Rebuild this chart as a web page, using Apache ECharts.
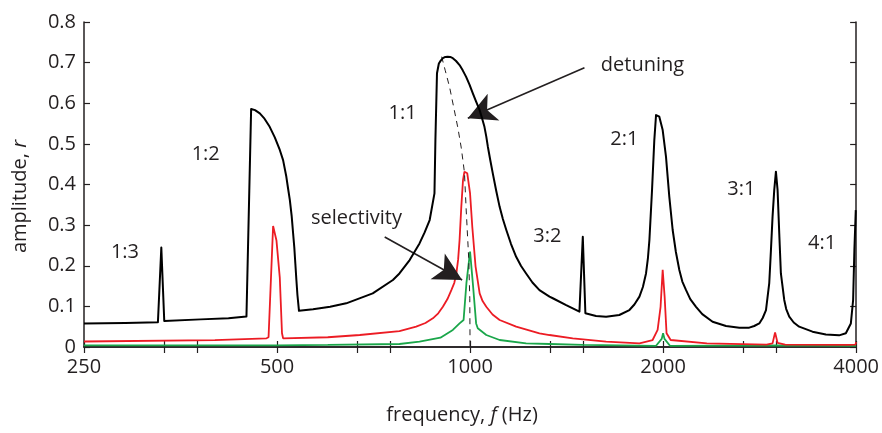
<!DOCTYPE html>
<html>
<head>
<meta charset="utf-8">
<script src="https://cdn.jsdelivr.net/npm/echarts@6/dist/echarts.min.js"></script>
<style>
html,body{margin:0;padding:0;background:#fff;}
#c{width:882px;height:433px;}
</style>
</head>
<body>
<div id="c"></div>
<script>
// ---- data ----
const xTickValues = [250, 333.333, 375, 500, 666.667, 750, 1000, 1333.33, 1500, 2000, 2666.67, 3000, 4000];
const xLabelValues = [250, 500, 1000, 2000, 4000];

const blackFreq = [250, 290, 326, 330, 333.5, 380, 420, 448, 455.6, 462, 470, 478, 487, 496, 505, 511, 517, 520, 523.5, 527, 529.7, 532, 534, 536, 538, 541,
  569, 605, 641, 705, 758, 776, 805, 834, 849.5, 865, 880, 883, 888, 894, 900, 907, 915, 923, 931, 940, 951, 963, 974, 986, 998, 1010, 1022, 1035, 1044, 1053, 1060, 1066, 1075, 1085, 1098, 1112, 1125, 1139, 1158.5, 1180, 1201, 1223, 1251, 1283, 1330, 1346, 1412, 1481, 1499, 1513,
  1572, 1630, 1709, 1772, 1804, 1837, 1860, 1881, 1894, 1904, 1922, 1938, 1950, 1973, 1997, 2021, 2045, 2070, 2094, 2120, 2143, 2172, 2205, 2251, 2302, 2389, 2507, 2630, 2725, 2774, 2825, 2860, 2894, 2928, 2946, 2963, 2981, 2999, 3017, 3035, 3053, 3090, 3112, 3146, 3197, 3260, 3420, 3588, 3763, 3855, 3925, 3957, 3975, 3995];
const blackAmp = [0.058, 0.059, 0.061, 0.245, 0.064, 0.068, 0.071, 0.075, 0.586, 0.583, 0.575, 0.562, 0.542, 0.516, 0.485, 0.46, 0.419, 0.392, 0.362, 0.322, 0.28, 0.245, 0.205, 0.165, 0.128, 0.089,
  0.093, 0.099, 0.1075, 0.132, 0.165, 0.181, 0.214, 0.255, 0.282, 0.3126, 0.378, 0.51, 0.674, 0.698, 0.705, 0.711, 0.714, 0.7146, 0.714, 0.711, 0.704, 0.694, 0.681, 0.665, 0.646, 0.6245, 0.604, 0.583, 0.563, 0.542, 0.518, 0.493, 0.461, 0.4275, 0.386, 0.345, 0.315, 0.288, 0.2535, 0.222, 0.1994, 0.181, 0.1588, 0.140, 0.124, 0.12, 0.103, 0.087, 0.2715, 0.083,
  0.0763, 0.0746, 0.0788, 0.091, 0.1046, 0.124, 0.1477, 0.181, 0.219, 0.263, 0.386, 0.51, 0.571, 0.567, 0.534, 0.468, 0.37, 0.288, 0.2338, 0.1895, 0.161, 0.14, 0.118, 0.099, 0.081, 0.0623, 0.0517, 0.0476, 0.0476, 0.0517, 0.058, 0.0714, 0.091, 0.157, 0.239, 0.321, 0.386, 0.4316, 0.386, 0.28, 0.181, 0.1157, 0.0935, 0.0746, 0.0603, 0.05, 0.0377, 0.031, 0.0287, 0.0337, 0.058, 0.1157, 0.239, 0.337];

const redFreq = [250, 400, 481.5, 485, 488, 493, 499, 505, 509, 511, 600, 673, 776, 824, 852, 875, 892, 907, 922, 935, 945, 952, 958, 963, 969, 975, 980, 990, 1000, 1008, 1020, 1035, 1046, 1060, 1084, 1112, 1180, 1283, 1330, 1446, 1630, 1837, 1926, 1961, 1982, 1997, 2011, 2025, 2055, 2340, 2900, 2963, 2990, 3017, 3100, 3900, 3990, 4000];
const redAmp = [0.0135, 0.017, 0.0214, 0.024, 0.02, 0.298, 0.262, 0.17, 0.034, 0.0214, 0.024, 0.0295, 0.039, 0.05, 0.059, 0.0706, 0.083, 0.099, 0.118, 0.14, 0.158, 0.181, 0.215, 0.263, 0.345, 0.411, 0.4316, 0.4275, 0.378, 0.296, 0.198, 0.132, 0.113, 0.099, 0.08, 0.0665, 0.05, 0.0337, 0.0295, 0.0214, 0.013, 0.009, 0.0172, 0.042, 0.099, 0.19, 0.124, 0.034, 0.0172, 0.009, 0.006, 0.009, 0.036, 0.01, 0.006, 0.005, 0.006, 0.012];

const greenFreq = [250, 500, 600, 776, 834, 899, 940, 963, 977, 987, 1000, 1010, 1022, 1028, 1060, 1112, 1223, 1330, 1500, 1950, 1990, 2000, 2010, 2050, 3000, 4000];
const greenAmp = [0.004, 0.004, 0.005, 0.0074, 0.013, 0.023, 0.042, 0.058, 0.0665, 0.157, 0.2346, 0.157, 0.058, 0.046, 0.0295, 0.0172, 0.009, 0.0074, 0.005, 0.003, 0.02, 0.034, 0.02, 0.003, 0.004, 0.003];

const backboneFreq = [903, 915, 929, 943, 957, 969, 980, 986, 995, 999, 1000];
const backboneAmp = [0.7146, 0.68, 0.64, 0.59, 0.54, 0.49, 0.43, 0.34, 0.22, 0.12, 0.0];

const yTickLabels = ['0', '0.1', '0.2', '0.3', '0.4', '0.5', '0.6', '0.7', '0.8'];

// ---- build ----
const pairs = (xs, ys) => xs.map((x, i) => [x, ys[i]]);
const INK = '#231f20';
const FONT = 'Open Sans';

const annotations = [
  { text: '1:3', coord: [289.6, 0.234] },
  { text: '1:2', coord: [387, 0.475] },
  { text: '1:1', coord: [785, 0.576] },
  { text: 'detuning', coord: [1857, 0.694] },
  { text: '2:1', coord: [1740, 0.512] },
  { text: '3:1', coord: [2648, 0.389] },
  { text: '4:1', coord: [3541, 0.256] },
  { text: '3:2', coord: [1320, 0.273] },
  { text: 'selectivity', coord: [665, 0.3175] }
];
const arrows = [
  [[1508, 0.6875], [992, 0.563]],
  [[736, 0.2708], [972, 0.165]]
];

const frameLine = { show: true, lineStyle: { color: INK, width: 1.5 } };
const tickStyle = { show: true, inside: true, length: 6, lineStyle: { color: INK, width: 1.2 } };

const option = {
  animation: false,
  grid: { left: 84, right: 25, top: 22, bottom: 86, containLabel: false },
  xAxis: [
    {
      type: 'log', logBase: 2, min: 250, max: 4000, position: 'bottom',
      axisLine: frameLine,
      axisTick: Object.assign({}, tickStyle, { customValues: xTickValues }),
      axisLabel: { customValues: xLabelValues, fontSize: 20, fontFamily: FONT, color: INK, margin: 10,
        formatter: v => String(Math.round(v)) },
      splitLine: { show: false }, minorTick: { show: false },
      name: '{n|frequency, }{i|f}{n| (Hz)}', nameLocation: 'middle', nameGap: 58,
      nameTextStyle: { padding: [0, 16, 0, 0], rich: {
        n: { fontSize: 20, fontFamily: FONT, color: INK },
        i: { fontSize: 20, fontFamily: FONT, color: INK, fontStyle: 'italic' } } }
    },
    {
      type: 'log', logBase: 2, min: 250, max: 4000, position: 'top',
      axisLine: frameLine,
      axisTick: Object.assign({}, tickStyle, { customValues: xTickValues }),
      axisLabel: { show: false }, splitLine: { show: false }
    }
  ],
  yAxis: [
    {
      type: 'value', min: 0, max: 0.8, interval: 0.1, position: 'left',
      axisLine: frameLine, axisTick: tickStyle,
      axisLabel: { fontSize: 20, fontFamily: FONT, color: INK, margin: 8,
        formatter: v => yTickLabels[Math.round(v * 10)] },
      splitLine: { show: false },
      name: '{n|amplitude, }{i|r}', nameLocation: 'middle', nameGap: 54,
      nameTextStyle: { padding: [0, 24, 0, 0], rich: {
        n: { fontSize: 20, fontFamily: FONT, color: INK },
        i: { fontSize: 20, fontFamily: FONT, color: INK, fontStyle: 'italic' } } }
    },
    {
      type: 'value', min: 0, max: 0.8, interval: 0.1, position: 'right',
      axisLine: frameLine, axisTick: tickStyle,
      axisLabel: { show: false }, splitLine: { show: false }
    }
  ],
  series: [
    {
      name: 'green', type: 'line', data: pairs(greenFreq, greenAmp), showSymbol: false,
      lineStyle: { color: '#1aa64a', width: 1.8 }, z: 2, silent: true
    },
    {
      name: 'red', type: 'line', data: pairs(redFreq, redAmp), showSymbol: false,
      lineStyle: { color: '#ec1c24', width: 1.8 }, z: 3, silent: true
    },
    {
      name: 'backbone', type: 'line', data: pairs(backboneFreq, backboneAmp), showSymbol: false,
      lineStyle: { color: INK, width: 1, type: [6, 5] }, z: 4, silent: true
    },
    {
      name: 'black', type: 'line', data: pairs(blackFreq, blackAmp), showSymbol: false,
      lineStyle: { color: '#000', width: 2, join: 'round' }, z: 5, silent: true,
      markPoint: {
        silent: true, symbol: 'circle', symbolSize: 0,
        label: { show: true, position: 'inside', fontSize: 20, fontFamily: FONT, color: INK,
          formatter: p => p.name },
        data: annotations.map(a => ({ name: a.text, coord: a.coord }))
      },
      markLine: {
        silent: true, symbol: ['none', 'arrow'], symbolSize: [22, 28],
        lineStyle: { color: INK, width: 1.6, type: 'solid' },
        label: { show: false },
        data: arrows.map(a => [{ coord: a[0] }, { coord: a[1] }])
      }
    }
  ]
};

const chart = echarts.init(document.getElementById('c'), null, { renderer: 'canvas' });
chart.setOption(option);
</script>
</body>
</html>
